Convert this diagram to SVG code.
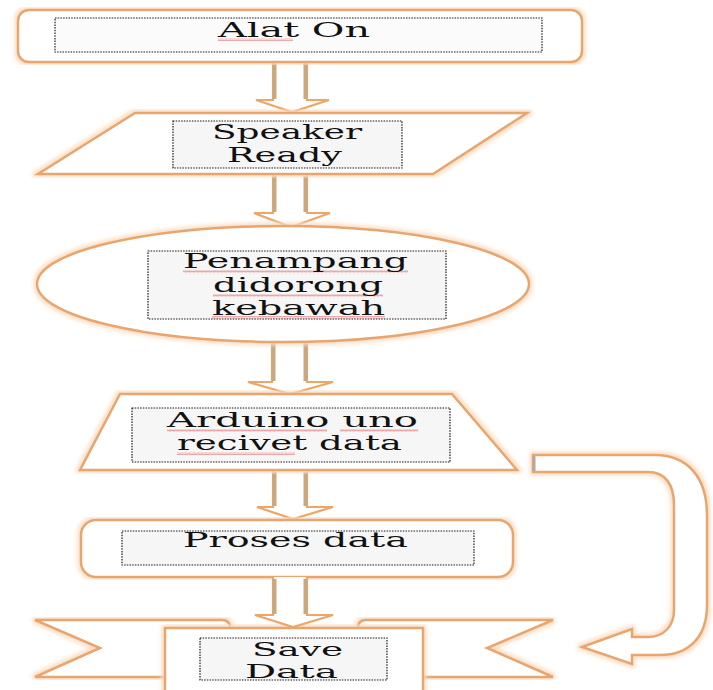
<svg xmlns="http://www.w3.org/2000/svg" width="713" height="690" viewBox="0 0 713 690">
<defs>
<style>
.shape{fill:#ffffff;stroke:#e9a56e;stroke-width:2.5;filter:url(#glow)}
.box{fill:#f6f6f6;stroke:#1a1a1a;stroke-width:1.2;stroke-dasharray:1.5 1.2}
.t{font-family:"DejaVu Serif","Liberation Serif",serif;font-size:20px;fill:#111}
.s{font-size:18px}
.arr{fill:#ffffff;stroke:#eda667;stroke-width:2.2;stroke-linejoin:miter}
.stem{stroke:#c7a880;stroke-width:4;fill:none}
.sp{fill:url(#wave)}
</style>
<filter id="glow" x="-5%" y="-5%" width="110%" height="110%">
<feMorphology in="SourceAlpha" operator="dilate" radius="1.5" result="d"/>
<feGaussianBlur in="d" stdDeviation="2" result="b"/>
<feFlood flood-color="#f9dcc0"/>
<feComposite in2="b" operator="in" result="g"/>
<feMerge><feMergeNode in="g"/><feMergeNode in="SourceGraphic"/></feMerge>
</filter>
<pattern id="wave" width="4" height="3" patternUnits="userSpaceOnUse">
<path d="M0,2.5 L1,0.5 L2,2.5 L3,0.5 L4,2.5" fill="none" stroke="#e06a6a" stroke-width="0.8" opacity="0.7"/>
</pattern>
</defs>
<rect width="713" height="690" fill="#ffffff"/>

<g id="connectors">
<g id="a1">
<path class="arr" d="M273,62 V100 H256 L292,112 L329,100 H307 V62"/>
<path class="stem" d="M274.5,63 V99 M305.5,63 V99"/>
</g>
<g id="a2">
<path class="arr" d="M273,174 V213 H254 L291,227 L330,213 H307 V174"/>
<path class="stem" d="M274.5,176 V212 M305.5,176 V212"/>
</g>
<g id="a3">
<path class="arr" d="M272,342 V382 H248 L290,394 L333,382 H307 V342"/>
<path class="stem" d="M273.5,343 V381 M305.5,343 V381"/>
</g>
<g id="a4">
<path class="arr" d="M273,470 V507 H257 L293,519 L333,507 H307 V470"/>
<path class="stem" d="M274.5,472 V506 M305.5,472 V506"/>
</g>
<g id="loop">
<path class="shape" d="M533,455 H655 C688,455 707,478 707,515 V605 C707,638 688,655 660,655 H632 V664 L582,647 L632,629 V637 H648 C664,637 674,626 674,610 V505 C674,484 665,472 648,472 H533 Z"/>
<path d="M534,456 V471" stroke="#b8a898" stroke-width="3"/>
</g>
</g>

<g id="n1">
<rect class="shape" x="18" y="10" width="564" height="52" rx="11"/>
<rect class="box" x="55" y="18" width="487" height="34" style="fill:#fbfbfb"/>
<rect class="sp" x="218" y="38" width="75" height="3"/>
<text class="t" x="218" y="37" textLength="152" lengthAdjust="spacingAndGlyphs">Alat On</text>
</g>

<g id="n2">
<path class="shape" d="M135,113 H527 L433,174 H38 Z"/>
<rect class="box" x="173" y="121" width="229" height="47"/>
<text class="t" x="212" y="139" textLength="150" lengthAdjust="spacingAndGlyphs">Speaker</text>
<text class="t" x="227" y="162" textLength="115" lengthAdjust="spacingAndGlyphs">Ready</text>
</g>

<g id="n3">
<ellipse class="shape" cx="283" cy="284" rx="246" ry="58"/>
<rect class="box" x="148" y="251" width="298" height="68"/>
<rect class="sp" x="183" y="270" width="225" height="3"/>
<rect class="sp" x="213" y="294" width="170" height="3"/>
<rect class="sp" x="212" y="316" width="173" height="3"/>
<text class="t" x="183" y="268" textLength="225" lengthAdjust="spacingAndGlyphs">Penampang</text>
<text class="t" x="213" y="292" textLength="170" lengthAdjust="spacingAndGlyphs">didorong</text>
<text class="t" x="212" y="315" textLength="173" lengthAdjust="spacingAndGlyphs">kebawah</text>
</g>

<g id="n4">
<path class="shape" d="M120,394 H452 L517,470 H80 Z"/>
<rect class="box" x="132" y="408" width="318" height="54"/>
<rect class="sp" x="167" y="429" width="160" height="3"/>
<rect class="sp" x="340" y="429" width="78" height="3"/>
<rect class="sp" x="177" y="452" width="118" height="3"/>
<text class="t" x="167" y="427" textLength="251" lengthAdjust="spacingAndGlyphs">Arduino uno</text>
<text class="t" x="177" y="450" textLength="225" lengthAdjust="spacingAndGlyphs">recivet data</text>
</g>

<g id="n5">
<rect class="shape" x="81" y="520" width="432" height="57" rx="15"/>
<rect class="box" x="122" y="531" width="352" height="34"/>
<text class="t" x="183" y="547" textLength="225" lengthAdjust="spacingAndGlyphs">Proses data</text>
</g>

<g id="n6">
<path class="shape" d="M35,620 H222 Q230,620 230,628 V677 H35 L100,648 Z"/>
<path class="shape" d="M553,620 H366 Q358,620 358,628 V677 H553 L487,648 Z"/>
<rect class="shape" x="165" y="628" width="258" height="80"/>
<rect class="box" x="200" y="638" width="187" height="42"/>
<text class="t s" x="252" y="656" textLength="91" lengthAdjust="spacingAndGlyphs">Save</text>
<text class="t s" x="245" y="678" textLength="93" lengthAdjust="spacingAndGlyphs">Data</text>
</g>

<g id="a5">
<path class="arr" d="M273,577 V615 H255 L293,627 L333,615 H307 V577"/>
<path class="stem" d="M274.5,579 V614 M305.5,579 V614"/>
</g>
</svg>
